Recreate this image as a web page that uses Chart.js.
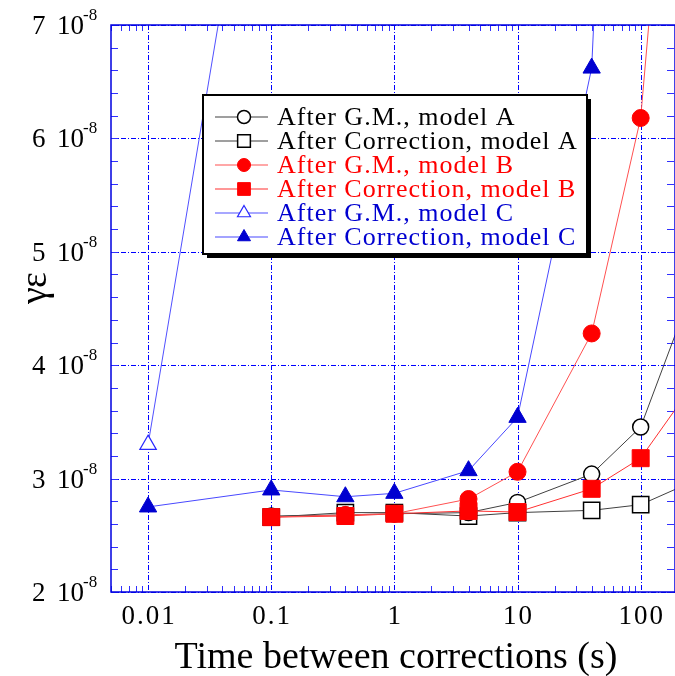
<!DOCTYPE html>
<html>
<head>
<meta charset="utf-8">
<script src="https://cdn.jsdelivr.net/npm/chart.js@4.4.1/dist/chart.umd.min.js"></script>
<style>
  html, body { margin: 0; padding: 0; background: #fff; overflow: hidden; }
  canvas { display: block; }
</style>
</head>
<body>
<canvas id="chart" width="675" height="676"></canvas>
<script>
// time between corrections (s)
const timesAB = [0.1, 0.4, 1, 4, 10, 40, 100, 400];
const timesC = [0.01, 0.1, 0.4, 1, 4, 10, 40, 100];

// gamma*epsilon, in units of 1e-8
const gmA = [2.67, 2.68, 2.69, 2.70, 2.79, 3.04, 3.455, 5.2];
const corrA = [2.66, 2.70, 2.70, 2.67, 2.70, 2.72, 2.77, 3.06];
const gmB = [2.66, 2.68, 2.69, 2.82, 3.06, 4.28, 6.18, 13.7];
const corrB = [2.66, 2.67, 2.69, 2.715, 2.705, 2.91, 3.18, 4.1];
const gmC = [3.30, 9.8];
const corrC = [2.75, 2.90, 2.84, 2.87, 3.07, 3.54, 6.62, 16];

const xTicks = [0.01, 0.1, 1, 10, 100];
const xTickLabels = ['0.01', '0.1', '1', '10', '100'];
const yTicks = [2, 3, 4, 5, 6, 7];
const yTickLabels = ['2', '3', '4', '5', '6', '7'];
const yTickExp = '-8';

const SERIF = '"Liberation Serif", "DejaVu Serif", serif';
const BLUE = '#0000e0';

function pts(xs, ys) {
  return ys.map((v, i) => ({ x: xs[i], y: v }));
}

function line(ctx, x1, y1, x2, y2) {
  ctx.beginPath();
  ctx.moveTo(x1, y1);
  ctx.lineTo(x2, y2);
  ctx.stroke();
}

const decor = {
  id: 'decor',
  beforeDatasetsDraw(chart) {
    const { ctx, chartArea: a, scales: { x, y } } = chart;
    ctx.save();
    ctx.strokeStyle = '#0000ff';
    ctx.lineWidth = 1;
    ctx.setLineDash([5, 2, 1, 2]);
    xTicks.forEach(v => {
      const px = Math.round(x.getPixelForValue(v)) + 0.5;
      line(ctx, px, a.top, px, a.bottom);
    });
    yTicks.forEach(v => {
      const py = Math.round(y.getPixelForValue(v)) + 0.5;
      line(ctx, a.left, py, a.right, py);
    });
    ctx.setLineDash([]);
    ctx.strokeStyle = '#3030ff';
    // minor ticks, drawn inward
    for (let d = 0.001; d < 1000; d *= 10) {
      for (let m = 2; m <= 9; m++) {
        const v = m * d;
        if (v < x.min || v > x.max) continue;
        const px = Math.round(x.getPixelForValue(v)) + 0.5;
        line(ctx, px, a.bottom, px, a.bottom - 6);
        line(ctx, px, a.top, px, a.top + 6);
      }
    }
    for (let v = y.min; v <= y.max + 1e-9; v += 0.2) {
      const py = Math.round(y.getPixelForValue(v)) + 0.5;
      line(ctx, a.left, py, a.left + 7, py);
      line(ctx, a.right - 1, py, a.right - 8, py);
    }
    ctx.restore();
  },
  afterDatasetsDraw(chart) {
    const { ctx, chartArea: a, scales: { x, y } } = chart;
    ctx.save();
    // frame
    ctx.strokeStyle = BLUE;
    ctx.lineWidth = 1.5;
    ctx.strokeRect(a.left, a.top, a.right - a.left, a.bottom - a.top);

    // legend
    const bx = 203, by = 95, bw = 384, bh = 159;
    ctx.fillStyle = '#000';
    ctx.fillRect(bx + 4, by + 4, bw, bh);
    ctx.fillStyle = '#fff';
    ctx.fillRect(bx, by, bw, bh);
    ctx.strokeStyle = '#000';
    ctx.lineWidth = 2;
    ctx.strokeRect(bx, by, bw, bh);
    const legendColors = ['#000', '#000', '#ff0000', '#ff0000', '#0000d0', '#0000d0'];
    const legendRadius = { circle: 6.5, rect: 9, triangle: 7.5 };
    ctx.textBaseline = 'middle';
    ctx.textAlign = 'left';
    chart.data.datasets.forEach((ds, i) => {
      const ry = 117 + i * 24;
      ctx.strokeStyle = ds.borderColor;
      ctx.lineWidth = 1.2;
      line(ctx, 215, ry, 268, ry);
      ctx.fillStyle = ds.pointBackgroundColor;
      ctx.strokeStyle = ds.pointBorderColor;
      ctx.lineWidth = ds.pointBorderWidth;
      Chart.helpers.drawPoint(ctx, {
        pointStyle: ds.pointStyle,
        radius: legendRadius[ds.pointStyle],
        rotation: 0,
        borderWidth: ds.pointBorderWidth
      }, 244, ry);
      ctx.fillStyle = legendColors[i];
      ctx.font = '26px ' + SERIF;
      ctx.letterSpacing = '1px';
      ctx.fillText(ds.label, 277, ry + 1);
      ctx.letterSpacing = '0px';
    });

    // x tick labels
    ctx.fillStyle = '#000';
    ctx.font = '27px ' + SERIF;
    ctx.textAlign = 'center';
    ctx.textBaseline = 'alphabetic';
    ctx.letterSpacing = '2px';
    xTicks.forEach((v, i) => {
      ctx.fillText(xTickLabels[i], x.getPixelForValue(v) + 1, 624);
    });
    ctx.letterSpacing = '0px';

    // y tick labels: "n 10" with exponent
    ctx.textAlign = 'left';
    ctx.textBaseline = 'alphabetic';
    yTicks.forEach((v, i) => {
      const py = y.getPixelForValue(v);
      ctx.font = '27px ' + SERIF;
      ctx.fillText(yTickLabels[i], 32, py + 9);
      ctx.fillText('10', 57, py + 9);
      ctx.font = '17px ' + SERIF;
      ctx.fillText(yTickExp, 83, py - 5);
    });

    // axis titles
    ctx.font = '38px ' + SERIF;
    ctx.textAlign = 'center';
    ctx.fillText('Time between corrections (s)', 396, 668);
    ctx.save();
    ctx.translate(46, 288);
    ctx.rotate(-Math.PI / 2);
    ctx.fillText('\u03b3\u03b5', 0, 0);
    ctx.restore();
    ctx.restore();
  }
};

const common = { borderWidth: 1, clip: 0 };

new Chart(document.getElementById('chart'), {
  type: 'line',
  data: {
    datasets: [
      {
        ...common,
        label: 'After G.M., model A',
        data: pts(timesAB, gmA),
        borderColor: '#404040',
        pointStyle: 'circle', pointRadius: 8,
        pointBackgroundColor: '#fff', pointBorderColor: '#000', pointBorderWidth: 1.5,
        order: 3
      },
      {
        ...common,
        label: 'After Correction, model A',
        data: pts(timesAB, corrA),
        borderColor: '#404040',
        pointStyle: 'rect', pointRadius: 11.5,
        pointBackgroundColor: '#fff', pointBorderColor: '#000', pointBorderWidth: 1.5,
        order: 3
      },
      {
        ...common,
        label: 'After G.M., model B',
        data: pts(timesAB, gmB),
        borderColor: '#ff5050',
        pointStyle: 'circle', pointRadius: 8.5,
        pointBackgroundColor: '#ff0000', pointBorderColor: '#ff0000', pointBorderWidth: 1,
        order: 2
      },
      {
        ...common,
        label: 'After Correction, model B',
        data: pts(timesAB, corrB),
        borderColor: '#ff3030',
        pointStyle: 'rect', pointRadius: 12,
        pointBackgroundColor: '#ff0000', pointBorderColor: '#ff0000', pointBorderWidth: 1,
        order: 2
      },
      {
        ...common,
        label: 'After G.M., model C',
        data: pts(timesC, gmC),
        borderColor: '#5050ff',
        pointStyle: 'triangle', pointRadius: 9.5,
        pointBackgroundColor: '#fff', pointBorderColor: '#2828ff', pointBorderWidth: 1.2,
        order: 1
      },
      {
        ...common,
        label: 'After Correction, model C',
        data: pts(timesC, corrC),
        borderColor: '#4848ff',
        pointStyle: 'triangle', pointRadius: 10,
        pointBackgroundColor: '#0000d0', pointBorderColor: '#0000d0', pointBorderWidth: 1,
        order: 1
      }
    ]
  },
  options: {
    responsive: false,
    animation: false,
    layout: { autoPadding: false, padding: { left: 111, right: 0, top: 25, bottom: 84 } },
    scales: {
      x: { type: 'logarithmic', min: 0.005, max: 190, display: false },
      y: { type: 'linear', min: 2, max: 7, display: false }
    },
    plugins: { legend: { display: false }, tooltip: { enabled: false } }
  },
  plugins: [decor]
});
</script>
</body>
</html>
